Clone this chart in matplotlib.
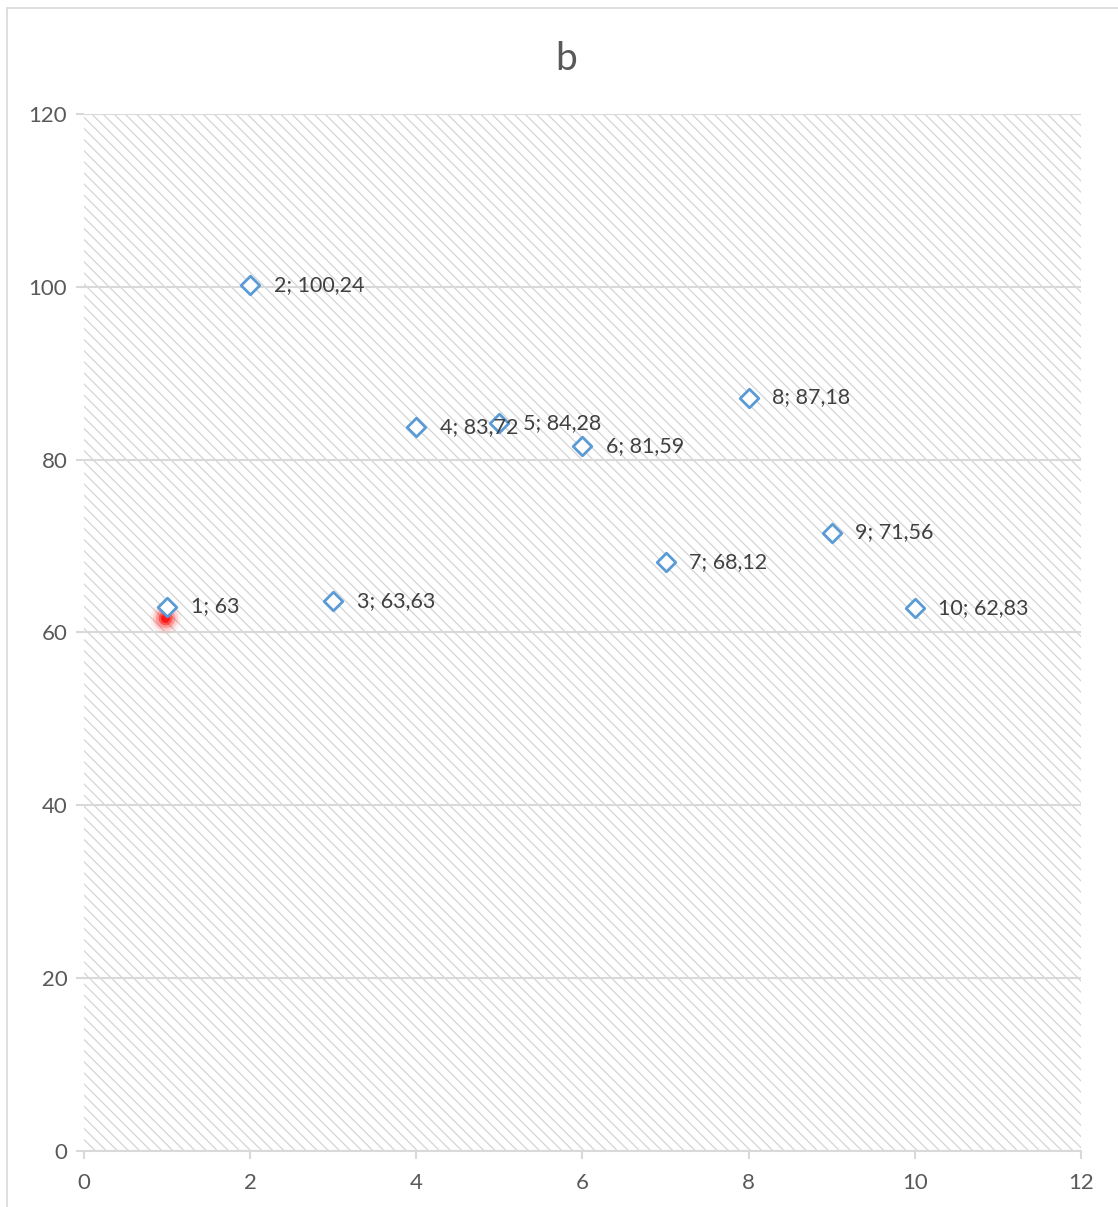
import numpy as np
import matplotlib
matplotlib.use("Agg")
import matplotlib.pyplot as plt
from matplotlib.patches import Rectangle

# ── Data ──────────────────────────────────────────────────────────────────────
x_vals = [1, 2, 3, 4, 5, 6, 7, 8, 9, 10]
y_vals = [63, 100.24, 63.63, 83.72, 84.28, 81.59, 68.12, 87.18, 71.56, 62.83]
x_ticks = [0, 2, 4, 6, 8, 10, 12]
y_ticks = [0, 20, 40, 60, 80, 100, 120]
blob_x, blob_y = 0.98, 61.7   # red smudge under the first point
title = "b"

plt.rcParams["font.family"] = ["Lato", "DejaVu Sans"]
plt.rcParams["hatch.linewidth"] = 0.9

fig = plt.figure(figsize=(11.18, 12.07), dpi=100)
ax = fig.add_axes([0.0751, 0.0464, 0.8918, 0.8592])

# outer chart frame (cut off at right and bottom in the original)
fig.patches.append(Rectangle((0.0063, -0.05), 1.05, 1.043, transform=fig.transFigure,
                             fill=False, edgecolor="#D9D9D9", linewidth=1.2))

# hatched plot area
ax.add_patch(Rectangle((0, 0), 1, 1, transform=ax.transAxes, facecolor="none",
                       edgecolor="#D4D4D4", hatch="\\\\\\", linewidth=0, zorder=0))

ax.set_xlim(0, 12)
ax.set_ylim(0, 120)
ax.set_xticks(x_ticks)
ax.set_yticks(y_ticks)
ax.grid(axis="y", color="#D9D9D9", linewidth=1.5, zorder=1)
ax.set_axisbelow(True)

for side in ["top", "right", "left"]:
    ax.spines[side].set_visible(False)
ax.spines["bottom"].set_color("#D9D9D9")
ax.spines["bottom"].set_linewidth(1.5)

ax.tick_params(axis="x", colors="#D9D9D9", labelcolor="#595959", length=6, width=1.5,
               labelsize=16, pad=10)
ax.tick_params(axis="y", colors="#D9D9D9", labelcolor="#595959", length=6, width=1.5,
               labelsize=16, pad=6)

# red blurred blob
for s, a in [(500, 0.06), (330, 0.12), (200, 0.25), (100, 0.45), (40, 0.7)]:
    ax.scatter([blob_x], [blob_y], s=s, color="red", alpha=a, linewidths=0, zorder=2)

ax.scatter(x_vals, y_vals, marker="D", s=90, facecolor="white", edgecolor="#5B9BD5",
           linewidths=2, zorder=3)

for x, y in zip(x_vals, y_vals):
    label = f"{x}; {y:g}".replace(".", ",")
    ax.annotate(label, (x, y), xytext=(17, 0), textcoords="offset points",
                va="center", ha="left", fontsize=15.5, color="#404040", zorder=4)

fig.text(0.506, 0.951, title, ha="center", va="center", fontsize=28, color="#595959")

fig.savefig("out.png", dpi=100)
